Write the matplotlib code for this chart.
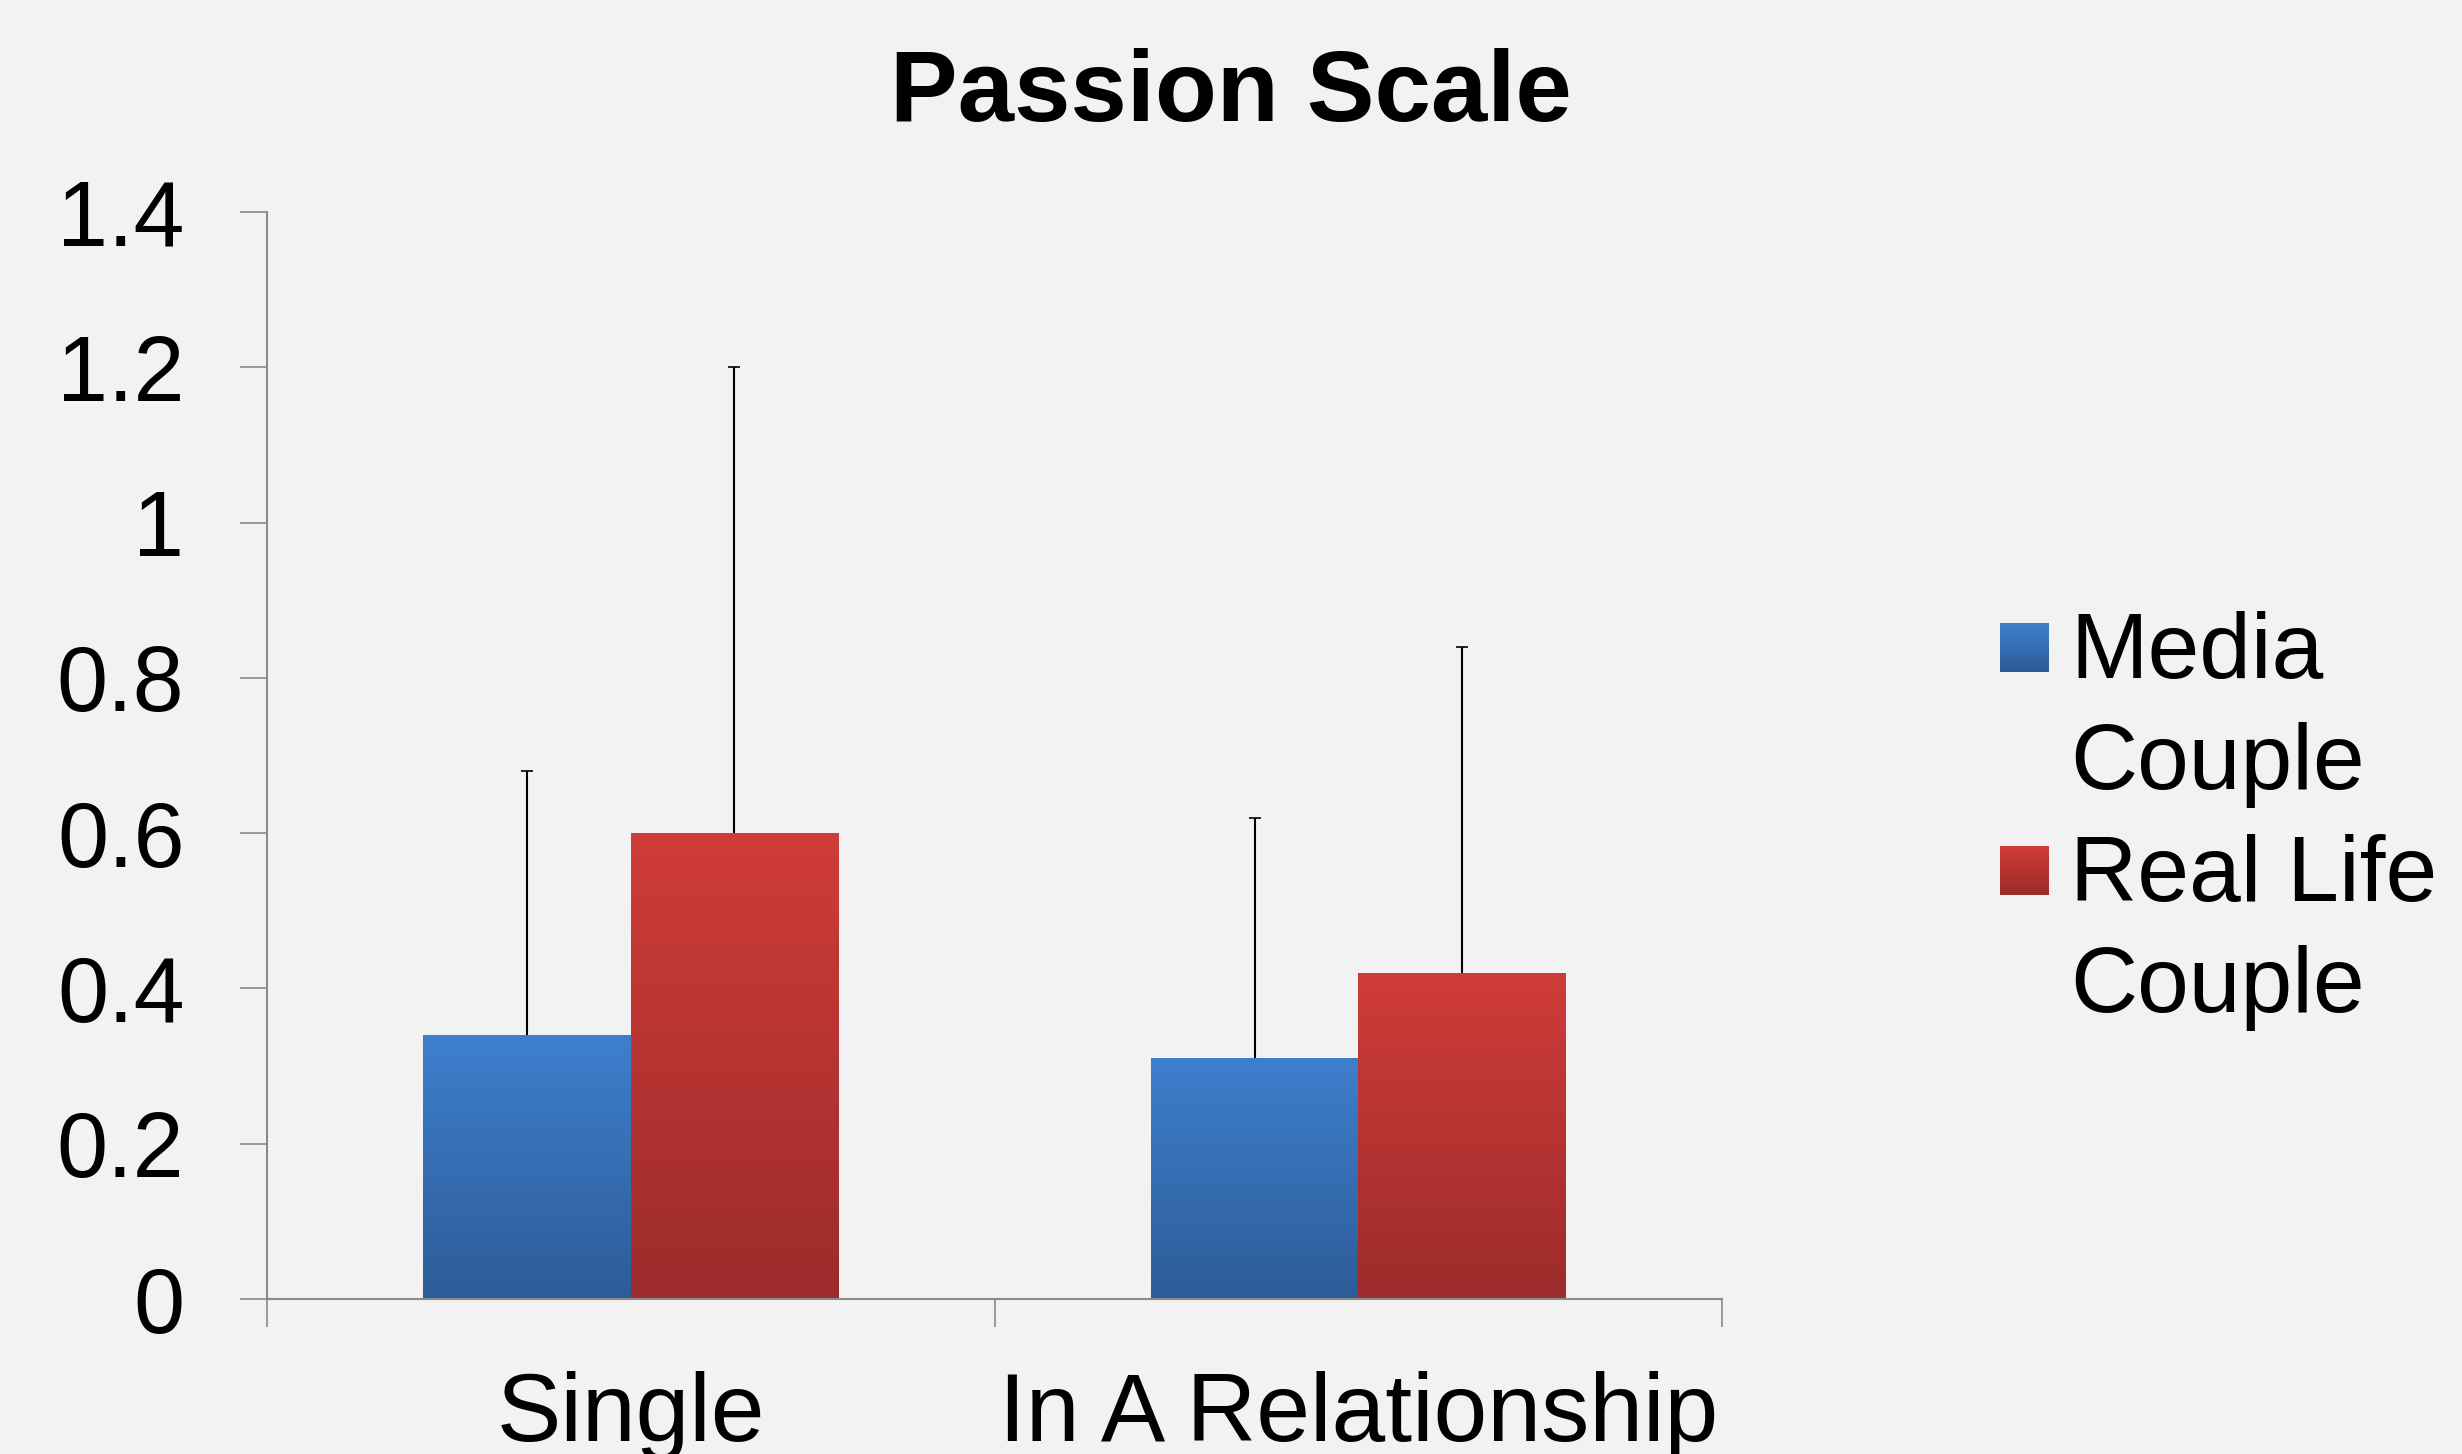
import matplotlib
matplotlib.use('Agg')
import matplotlib.pyplot as plt
import numpy as np
from matplotlib.colors import LinearSegmentedColormap

# data
categories = ['Single', 'In A Relationship']
series = ['Media Couple', 'Real Life Couple']
media = [0.34, 0.31]
real_life = [0.60, 0.42]
media_err = [0.34, 0.31]
real_life_err = [0.60, 0.42]
yticks = [0, 0.2, 0.4, 0.6, 0.8, 1.0, 1.2, 1.4]
ytick_labels = ['0', '0.2', '0.4', '0.6', '0.8', '1', '1.2', '1.4']

bg = '#F2F2F2'
axis_col = '#8A8A8A'
# (top, bottom) of each bar gradient
grads = [('#3E7FCD', '#2D5C98'), ('#CF3C39', '#9C2B2B')]

plt.rcParams['font.family'] = ['Liberation Sans', 'DejaVu Sans']

W, H = 2462, 1454
fig = plt.figure(figsize=(W / 100, H / 100), dpi=100, facecolor=bg)
ax = fig.add_axes([267 / W, 1 - 1299 / H, (1722 - 267) / W, (1299 - 212) / H])
ax.set_facecolor(bg)

x = np.arange(len(categories))
bw = 0.285
vals = [media, real_life]
errs = [media_err, real_life_err]

for i, (v, e) in enumerate(zip(vals, errs)):
    off = (i - 0.5) * bw
    bars = ax.bar(x + off, v, bw, color='none', edgecolor='none', zorder=2)
    cmap = LinearSegmentedColormap.from_list('g%d' % i, [grads[i][1], grads[i][0]])
    for b in bars:
        grad = np.linspace(1, 0, 256).reshape(-1, 1)
        im = ax.imshow(grad, cmap=cmap, aspect='auto', vmin=0, vmax=1,
                       extent=(b.get_x(), b.get_x() + b.get_width(), 0, b.get_height()),
                       zorder=2)
        im.set_clip_path(b)
    eb = ax.errorbar(x + off, v, yerr=[np.zeros(len(v)), e], fmt='none', ecolor='black',
                     elinewidth=1.5, capsize=4.3, capthick=1.2, zorder=3)
    # only the upper half is shown, so drop the cap sitting on the bar top
    eb[1][0].set_visible(False)

ax.set_xlim(-0.5, len(categories) - 0.5)
ax.set_ylim(0, 1.4)

for s in ['top', 'right']:
    ax.spines[s].set_visible(False)
for s in ['left', 'bottom']:
    ax.spines[s].set_color(axis_col)
    ax.spines[s].set_linewidth(1.5)

ax.set_yticks(yticks)
ax.set_yticklabels(ytick_labels)
ax.tick_params(axis='y', direction='out', length=19.4, width=1.2, color=axis_col,
               pad=40, labelsize=66)

ax.set_xticks(np.arange(len(categories) + 1) - 0.5)
ax.set_xticklabels([])
ax.set_xticks(x, minor=True)
ax.set_xticklabels(categories, minor=True)
ax.tick_params(axis='x', which='major', direction='out', length=20, width=1.2, color=axis_col)
ax.tick_params(axis='x', which='minor', length=0, pad=52, labelsize=69.5)

fig.text(0.5, 1 - 121 / H, 'Passion Scale', ha='center', va='baseline',
         fontsize=73, fontweight='bold')

# legend, drawn in pixel coordinates
lax = fig.add_axes([0, 0, 1, 1])
lax.axis('off')
lax.patch.set_visible(False)
sq = 49
for i, name in enumerate(series):
    top = 623 + i * 223
    cmap = LinearSegmentedColormap.from_list('l%d' % i, [grads[i][1], grads[i][0]])
    lax.imshow(np.linspace(1, 0, 64).reshape(-1, 1), cmap=cmap, aspect='auto',
               vmin=0, vmax=1, extent=(2000, 2000 + sq, top + sq, top))
    lines = name.rsplit(' ', 1)
    for j, ln in enumerate(lines):
        lax.text(2070, top + 55 + j * 111, ln, fontsize=67, va='baseline', ha='left')
lax.set_xlim(0, W)
lax.set_ylim(H, 0)

fig.savefig('out.png', dpi=100, facecolor=bg)
